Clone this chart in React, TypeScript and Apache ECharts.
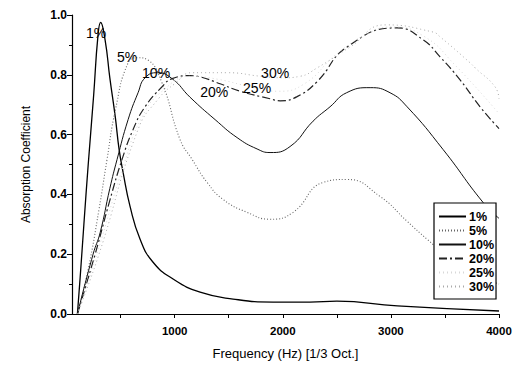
import React, { useEffect, useRef } from "react";
import * as echarts from "echarts";

const seriesNames = ["1%", "5%", "10%", "20%", "25%", "30%"];

const f1 = [100, 125, 160, 200, 250, 290, 315, 356, 400, 450, 486, 523, 587, 680, 800, 985, 1235, 1540, 1910, 2250, 2500, 3060, 4000];
const a1 = [0, 0.12, 0.3, 0.5, 0.73, 0.93, 0.975, 0.917, 0.79, 0.66, 0.55, 0.473, 0.36, 0.25, 0.173, 0.117, 0.073, 0.05, 0.04, 0.04, 0.043, 0.027, 0.01];

const f5 = [100, 200, 300, 374, 450, 569, 661, 750, 883, 1050, 1161, 1300, 1448, 1670, 1882, 2095, 2373, 2595, 2900, 3150, 3335, 3600, 4000];
const a5 = [0, 0.15, 0.35, 0.517, 0.68, 0.84, 0.857, 0.85, 0.773, 0.583, 0.517, 0.44, 0.383, 0.34, 0.317, 0.34, 0.44, 0.45, 0.393, 0.31, 0.25, 0.17, 0.1];

const f10 = [100, 245, 311, 400, 467, 569, 661, 726, 840, 976, 1142, 1374, 1577, 1762, 1882, 2067, 2280, 2437, 2590, 2808, 2992, 3150, 3483, 3853, 4000];
const a10 = [0, 0.2, 0.273, 0.42, 0.517, 0.65, 0.74, 0.79, 0.807, 0.787, 0.725, 0.65, 0.59, 0.552, 0.54, 0.56, 0.645, 0.693, 0.74, 0.757, 0.74, 0.693, 0.55, 0.373, 0.32];

const f20 = [100, 264, 400, 513, 615, 726, 883, 976, 1143, 1235, 1420, 1605, 1882, 1975, 2132, 2317, 2595, 3057, 3298, 3455, 3640, 3825, 4000];
const a20 = [0, 0.2, 0.38, 0.517, 0.617, 0.693, 0.76, 0.787, 0.797, 0.793, 0.77, 0.745, 0.72, 0.713, 0.727, 0.777, 0.893, 0.957, 0.917, 0.86, 0.783, 0.693, 0.62];

const f25 = [100, 280, 530, 700, 900, 1150, 1400, 1700, 1950, 2200, 2500, 2800, 3000, 3300, 3600, 4000];
const a25 = [0, 0.2, 0.5, 0.66, 0.75, 0.795, 0.785, 0.76, 0.745, 0.77, 0.87, 0.94, 0.96, 0.93, 0.83, 0.67];

const f30 = [100, 300, 661, 850, 1000, 1161, 1485, 1800, 2000, 2160, 2317, 2622, 2950, 3390, 3455, 3733, 3780, 3963, 4000];
const a30 = [0, 0.2, 0.617, 0.72, 0.77, 0.807, 0.807, 0.795, 0.79, 0.795, 0.823, 0.893, 0.967, 0.943, 0.927, 0.84, 0.823, 0.76, 0.72];

const labelFreq = [273, 560, 828, 1365, 1762, 1929];
const labelVal = [0.94, 0.86, 0.807, 0.743, 0.757, 0.807];

const xTickValues = [500, 1000, 1500, 2000, 2500, 3000, 3500, 4000];
const xLabelValues = [1000, 2000, 3000, 4000];

const freqs = [f1, f5, f10, f20, f25, f30];
const vals = [a1, a5, a10, a20, a25, a30];

const lineStyles = [
  { color: "#000", width: 1.3, type: "solid" },
  { color: "#666", width: 1.1, type: [1, 2] },
  { color: "#111", width: 1, type: "solid" },
  { color: "#222", width: 1.2, type: [8, 3, 2, 3] },
  { color: "#d8d8d8", width: 1, type: [1, 3] },
  { color: "#aaa", width: 1, type: [1, 3] },
];

const FONT = "Liberation Sans, Arial, sans-serif";

export default function App() {
  const ref = useRef<HTMLDivElement>(null);
  useEffect(() => {
    document.body.style.margin = "0";
    const chart = echarts.init(ref.current!, null, { renderer: "svg" });
    const series = seriesNames.map((name, i) => ({
      name,
      type: "line",
      data: freqs[i].map((f, j) => [f, vals[i][j]]),
      smooth: true,
      symbol: "none",
      showSymbol: false,
      lineStyle: lineStyles[i],
      itemStyle: { color: lineStyles[i].color },
      z: 2,
      markPoint: {
        symbol: "circle",
        symbolSize: 0,
        silent: true,
        itemStyle: { color: "transparent" },
        data: [{ name, coord: [labelFreq[i], labelVal[i]] }],
        label: {
          show: true,
          position: "inside",
          formatter: "{b}",
          color: "#000",
          textBorderWidth: 0,
          fontSize: 14,
          fontFamily: FONT,
        },
      },
    }));
    chart.setOption({
      animation: false,
      backgroundColor: "#fff",
      textStyle: { fontFamily: FONT },
      grid: { left: 72, right: 26, top: 15, bottom: 50 },
      legend: {
        data: seriesNames,
        orient: "vertical",
        left: 434,
        top: 203,
        width: 61,
        padding: [7, 2, 6, 4],
        itemWidth: 27,
        itemHeight: 8,
        itemGap: 1,
        borderColor: "#000",
        borderWidth: 1.2,
        backgroundColor: "#fff",
        itemStyle: { opacity: 0 },
        textStyle: { color: "#000", fontSize: 12.5, fontWeight: "bold", fontFamily: FONT, padding: [0, 0, 0, -2] },
      },
      xAxis: {
        type: "value",
        min: 50,
        max: 4000,
        name: "Frequency (Hz) [1/3 Oct.]",
        nameLocation: "middle",
        nameGap: 33,
        nameTextStyle: { color: "#000", fontSize: 13, fontFamily: FONT },
        splitLine: { show: false },
        axisLine: { onZero: false, lineStyle: { color: "#000", width: 1.2 } },
        axisTick: { customValues: xTickValues, length: 4, lineStyle: { color: "#000" } },
        axisLabel: {
          customValues: xLabelValues,
          color: "#000",
          fontSize: 11.5,
          fontWeight: "bold",
          fontFamily: FONT,
          margin: 11,
          formatter: (v: number) => String(v),
        },
      },
      yAxis: {
        type: "value",
        min: 0,
        max: 1,
        interval: 0.2,
        name: "Absorption Coefficient",
        nameLocation: "middle",
        nameGap: 40,
        nameTextStyle: { color: "#000", fontSize: 12, fontFamily: FONT },
        splitLine: { show: false },
        axisLine: { show: true, lineStyle: { color: "#000", width: 1.2 } },
        axisTick: { show: true, length: 5, lineStyle: { color: "#000" } },
        minorTick: { show: true, splitNumber: 2, length: 3, lineStyle: { color: "#000" } },
        axisLabel: {
          color: "#000",
          fontSize: 12,
          fontWeight: "bold",
          fontFamily: FONT,
          margin: 5,
          formatter: (v: number) => v.toFixed(1),
        },
      },
      series,
    });
    return () => chart.dispose();
  }, []);
  return <div ref={ref} style={{ width: 525, height: 365 }} />;
}
